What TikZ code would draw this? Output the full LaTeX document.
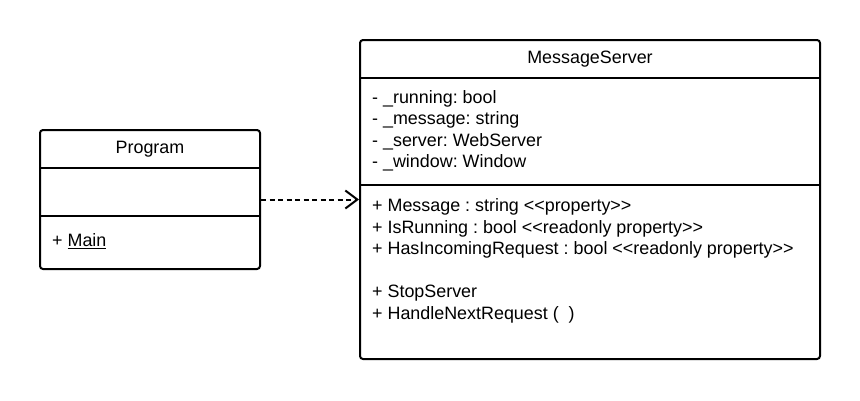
\documentclass[tikz,border=0pt]{standalone}
\usepackage{fontspec}
\setmainfont{Liberation Sans}
\usetikzlibrary{arrows.meta}
\begin{document}
\frenchspacing
\begin{tikzpicture}[x=1pt,y=-1pt,
  classbox/.style={draw, line width=2pt, rounded corners=3pt, inner sep=0pt},
  divider/.style={line width=2pt},
  txt/.style={anchor=base west, inner sep=0pt, font=\fontsize{17.9}{20}\selectfont},
  ttl/.style={anchor=base, inner sep=0pt, font=\fontsize{17.9}{20}\selectfont},
  dep/.style={line width=2pt, dash pattern=on 5pt off 3.5pt, -{Straight Barb[length=12pt,width=18pt,line width=2pt]}}
]
\useasboundingbox (0,0) rectangle (860,400);
% Program
\node[classbox, minimum width=220pt, minimum height=139pt] (prog) at (150,199.5) {};
\draw[divider] (40,168) coordinate (p1a) -- (260,168) coordinate (p1b);
\draw[divider] (40,216) coordinate (p2a) -- (260,216) coordinate (p2b);
\node[ttl] (progt) at (150,153) {Program};
\node[txt] (progm) at (52,246.5) {+ \underline{Main}};
% MessageServer
\node[classbox, minimum width=460pt, minimum height=319pt] (ms) at (590,199.5) {};
\draw[divider] (360,78) coordinate (m1a) -- (820,78) coordinate (m1b);
\draw[divider] (360,185) coordinate (m2a) -- (820,185) coordinate (m2b);
\node[ttl] (mst) at (590,63) {MessageServer};
\node[txt] (a1) at (372,103) {- \_running: bool};
\node[txt] (a2) at (372,124.5) {- \_message: string};
\node[txt] (a3) at (372,146) {- \_server: WebServer};
\node[txt] (a4) at (372,167.5) {- \_window: Window};
\node[txt] (o1) at (372,211.5) {+ Message : string <{}<property>{}>};
\node[txt] (o2) at (372,233) {+ IsRunning : bool <{}<readonly property>{}>};
\node[txt] (o3) at (372,254.5) {+ HasIncomingRequest : bool <{}<readonly property>{}>};
\node[txt] (o4) at (372,297.5) {+ StopServer};
\node[txt] (o5) at (372,319) {+ HandleNextRequest (\ \ )};
% dependency
\draw[dep] (prog.east) -- (ms.west);
\end{tikzpicture}
\end{document}
